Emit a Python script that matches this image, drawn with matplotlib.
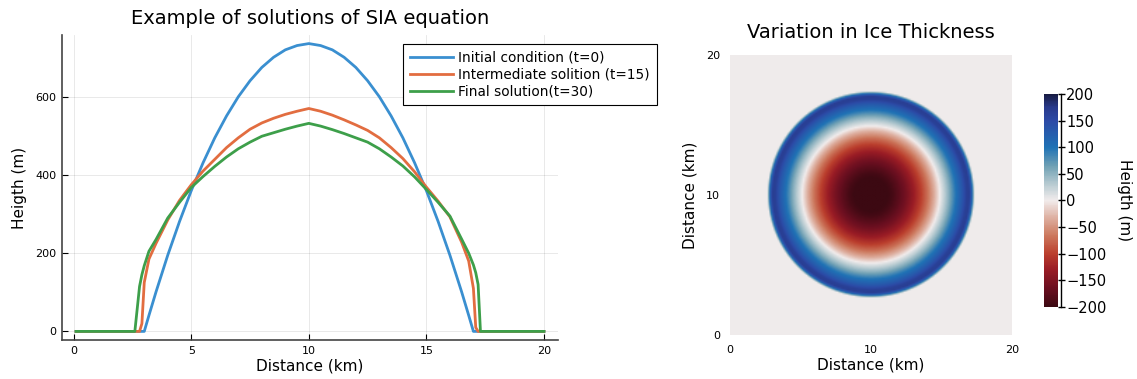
import numpy as np
import matplotlib
matplotlib.use('Agg')
import matplotlib.pyplot as plt
from matplotlib.colors import LinearSegmentedColormap

# profile along the flow line (km)
distance = [0.1, 2.6, 2.8, 2.9, 3.0, 3.2, 3.5, 4.0, 4.5, 5.0, 5.5, 6.0, 6.5, 7.0, 7.5, 8.0, 8.5, 9.0, 9.5, 10.0,
            10.5, 11.0, 11.5, 12.0, 12.5, 13.0, 13.5, 14.0, 14.5, 15.0, 15.5, 16.0, 16.5, 16.8, 17.0, 17.1, 17.2, 17.3, 20.0]
# ice height (m)
h_initial = [0, 0, 0, 0, 0, 41, 101, 195, 281, 360, 431, 495, 551, 600, 641, 675, 701, 720, 731, 736,
             731, 720, 701, 675, 641, 600, 551, 495, 431, 360, 281, 195, 101, 41, 0, 0, 0, 0, 0]
h_mid = [0, 0, 0, 20, 125, 185, 225, 285, 335, 375, 410, 440, 470, 495, 517, 533, 545, 555, 563, 570,
         563, 553, 541, 528, 514, 495, 470, 442, 408, 369, 333, 293, 228, 180, 110, 10, 0, 0, 0]
h_final = [0, 0, 115, 145, 168, 205, 235, 290, 330, 368, 396, 422, 446, 467, 484, 499, 508, 517, 525, 532,
           525, 516, 506, 495, 484, 467, 446, 423, 395, 363, 330, 295, 236, 200, 170, 150, 120, 0, 0]

labels = ['Initial condition (t=0)', 'Intermediate solition (t=15)', 'Final solution(t=30)']
colors = ['#3a8fd0', '#e26d40', '#3d9f4a']

# colour scale for the thickness change (dark red = loss, dark blue = gain)
cmap_vals = [-200, -165, -130, -100, -65, -30, 0, 30, 65, 100, 150, 175, 200]
cmap_cols = ['#3c0912', '#6b0f20', '#9a1c25', '#bb3f2d', '#cd7a5f', '#dfb4a6',
             '#f1ecec', '#b9ccd2', '#6fa0b4', '#1f72b5', '#2c4aa6', '#283a8c', '#181c43']


def main():
    plt.rcParams['font.family'] = 'DejaVu Sans'
    fig = plt.figure(figsize=(11.37, 3.79), dpi=100)

    #Left: profiles
    ax = fig.add_axes([0.0545, 0.1029, 0.4363, 0.8048])
    for h, lab, c in zip([h_initial, h_mid, h_final], labels, colors):
        ax.plot(distance, h, color=c, lw=2, label=lab)
    ax.set_xlim(-0.5, 20.6)
    ax.set_ylim(-22, 758)
    ax.set_xticks([0, 5, 10, 15, 20])
    ax.set_yticks([0, 200, 400, 600])
    ax.grid(True, color='k', alpha=0.1, lw=0.6)
    for s in ['top', 'right']:
        ax.spines[s].set_visible(False)
    for s in ['left', 'bottom']:
        ax.spines[s].set_linewidth(1.2)
        ax.spines[s].set_color('#444444')
    ax.tick_params(direction='in', length=4, labelsize=8, pad=4)
    ax.set_xlabel('Distance (km)', fontsize=11, labelpad=2)
    ax.set_ylabel('Heigth (m)', fontsize=11, labelpad=6)
    ax.set_title('Example of solutions of SIA equation', fontsize=14, pad=8)
    leg = ax.legend(loc='upper left', bbox_to_anchor=(0.6875, 0.97), borderaxespad=0,
                    fontsize=9.8, handlelength=3.2, handletextpad=0.35, labelspacing=0.2,
                    fancybox=False, framealpha=1, edgecolor='black', borderpad=0.5)
    leg.get_frame().set_linewidth(0.8)

    #Right: thickness change (final - initial), radially symmetric
    grid = np.linspace(0, 20, 201)
    xx, yy = np.meshgrid(grid, grid)
    r = np.hypot(xx - 10, yy - 10)
    xq = np.clip(10 - r, 0.1, 10)
    diff = np.interp(xq, distance, h_final) - np.interp(xq, distance, h_initial)

    cmap = LinearSegmentedColormap.from_list(
        'balance_r', [((v + 200) / 400, c) for v, c in zip(cmap_vals, cmap_cols)])

    ax2 = fig.add_axes([0.6420, 0.1161, 0.2480, 0.7388])
    im = ax2.imshow(diff, extent=[0, 20, 0, 20], origin='lower', cmap=cmap,
                    vmin=-200, vmax=200, aspect='auto', interpolation='bilinear')
    for s in ax2.spines.values():
        s.set_visible(False)
    ax2.set_xticks([0, 10, 20])
    ax2.set_yticks([0, 10, 20])
    ax2.tick_params(length=0, labelsize=8, pad=7)
    ax2.set_xlabel('Distance (km)', fontsize=11, labelpad=2)
    ax2.set_ylabel('Distance (km)', fontsize=11, labelpad=6)
    ax2.set_title('Variation in Ice Thickness', fontsize=14, pad=12)

    cax = fig.add_axes([0.9182, 0.19, 0.0123, 0.562])
    cbar = fig.colorbar(im, cax=cax, ticks=list(range(-200, 201, 50)))
    cbar.outline.set_visible(False)
    cax.plot([1.2, 1.2], [0, 1], transform=cax.transAxes, color='k', lw=1, clip_on=False)
    cax.tick_params(direction='out', length=5, width=1, labelsize=10.5, pad=1)
    cbar.set_label('Heigth (m)', rotation=270, fontsize=11, labelpad=18)

    fig.savefig('out.png', dpi=100)


if __name__ == "__main__":
    main()
